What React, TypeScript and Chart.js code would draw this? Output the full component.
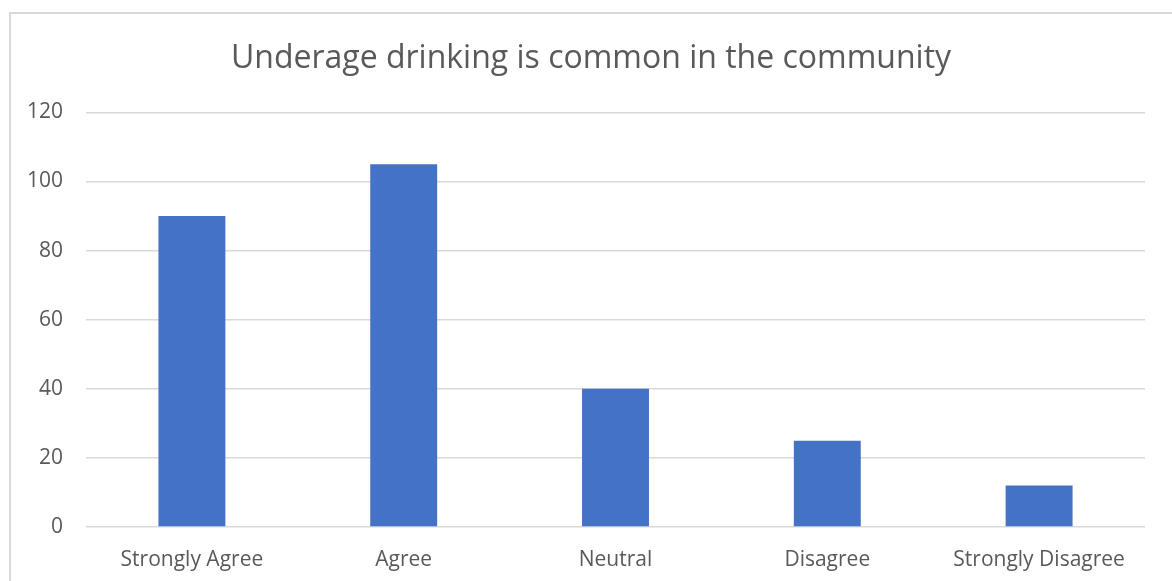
import React, { useEffect, useRef } from "react";
import { Chart, registerables } from "chart.js";

Chart.register(...registerables);

const categories = ["Strongly Agree", "Agree", "Neutral", "Disagree", "Strongly Disagree"];
const responses = [90, 105, 40, 25, 12];
const yTicks = [0, 20, 40, 60, 80, 100, 120];
const titleText = "Underage drinking is common in the community";

const TEXT = "#595959";
const GRID = "#D9D9D9";
const BAR = "#4472C4";
const FONT = "'Open Sans', 'Noto Sans', sans-serif";

export default function App() {
  const canvasRef = useRef<HTMLCanvasElement | null>(null);

  useEffect(() => {
    const canvas = canvasRef.current;
    if (!canvas) return;
    const chart = new Chart(canvas, {
      type: "bar",
      data: {
        labels: categories,
        datasets: [
          {
            label: "Responses",
            data: responses,
            backgroundColor: BAR,
            borderWidth: 0,
            barPercentage: 0.316,
            categoryPercentage: 1,
          },
        ],
      },
      options: {
        responsive: false,
        animation: false,
        layout: { padding: { left: 10, right: 0, top: 13, bottom: 0 } },
        plugins: {
          legend: { display: false },
          tooltip: { enabled: false },
          title: {
            display: true,
            text: titleText,
            color: TEXT,
            font: { family: FONT, size: 32, weight: "normal" },
            padding: { top: 27, bottom: 34 },
          },
        },
        scales: {
          x: {
            grid: { display: false, drawTicks: false },
            border: { display: false },
            ticks: {
              color: TEXT,
              font: { family: FONT, size: 21 },
              padding: 20,
              maxRotation: 0,
              autoSkip: false,
            },
            afterFit: (scale: any) => {
              scale.height = 54;
            },
          },
          y: {
            min: 0,
            max: 120,
            afterBuildTicks: (scale: any) => {
              scale.ticks = yTicks.map((v) => ({ value: v }));
            },
            grid: { color: GRID, lineWidth: 1.5, drawTicks: false },
            border: { display: false },
            ticks: {
              color: TEXT,
              font: { family: FONT, size: 21 },
              padding: 23,
            },
            afterFit: (scale: any) => {
              scale.width = 76;
            },
          },
          // empty right-hand margin so the plot ends before the frame edge
          yRight: {
            position: "right",
            min: 0,
            max: 120,
            grid: { display: false, drawTicks: false },
            border: { display: false },
            ticks: { display: false },
            afterFit: (scale: any) => {
              scale.width = 27;
            },
          },
        },
      },
    });
    return () => chart.destroy();
  }, []);

  return (
    <div
      style={{
        position: "fixed",
        left: 0,
        top: 0,
        width: 1172,
        height: 581,
        background: "#fff",
        overflow: "hidden",
      }}
    >
      <div
        style={{
          position: "absolute",
          left: 9,
          top: 12,
          width: 1200,
          height: 600,
          borderLeft: `2px solid ${GRID}`,
          borderTop: `2px solid ${GRID}`,
          boxSizing: "border-box",
        }}
      />
      <canvas
        ref={canvasRef}
        width={1172}
        height={581}
        style={{ position: "absolute", left: 0, top: 0 }}
      />
    </div>
  );
}
